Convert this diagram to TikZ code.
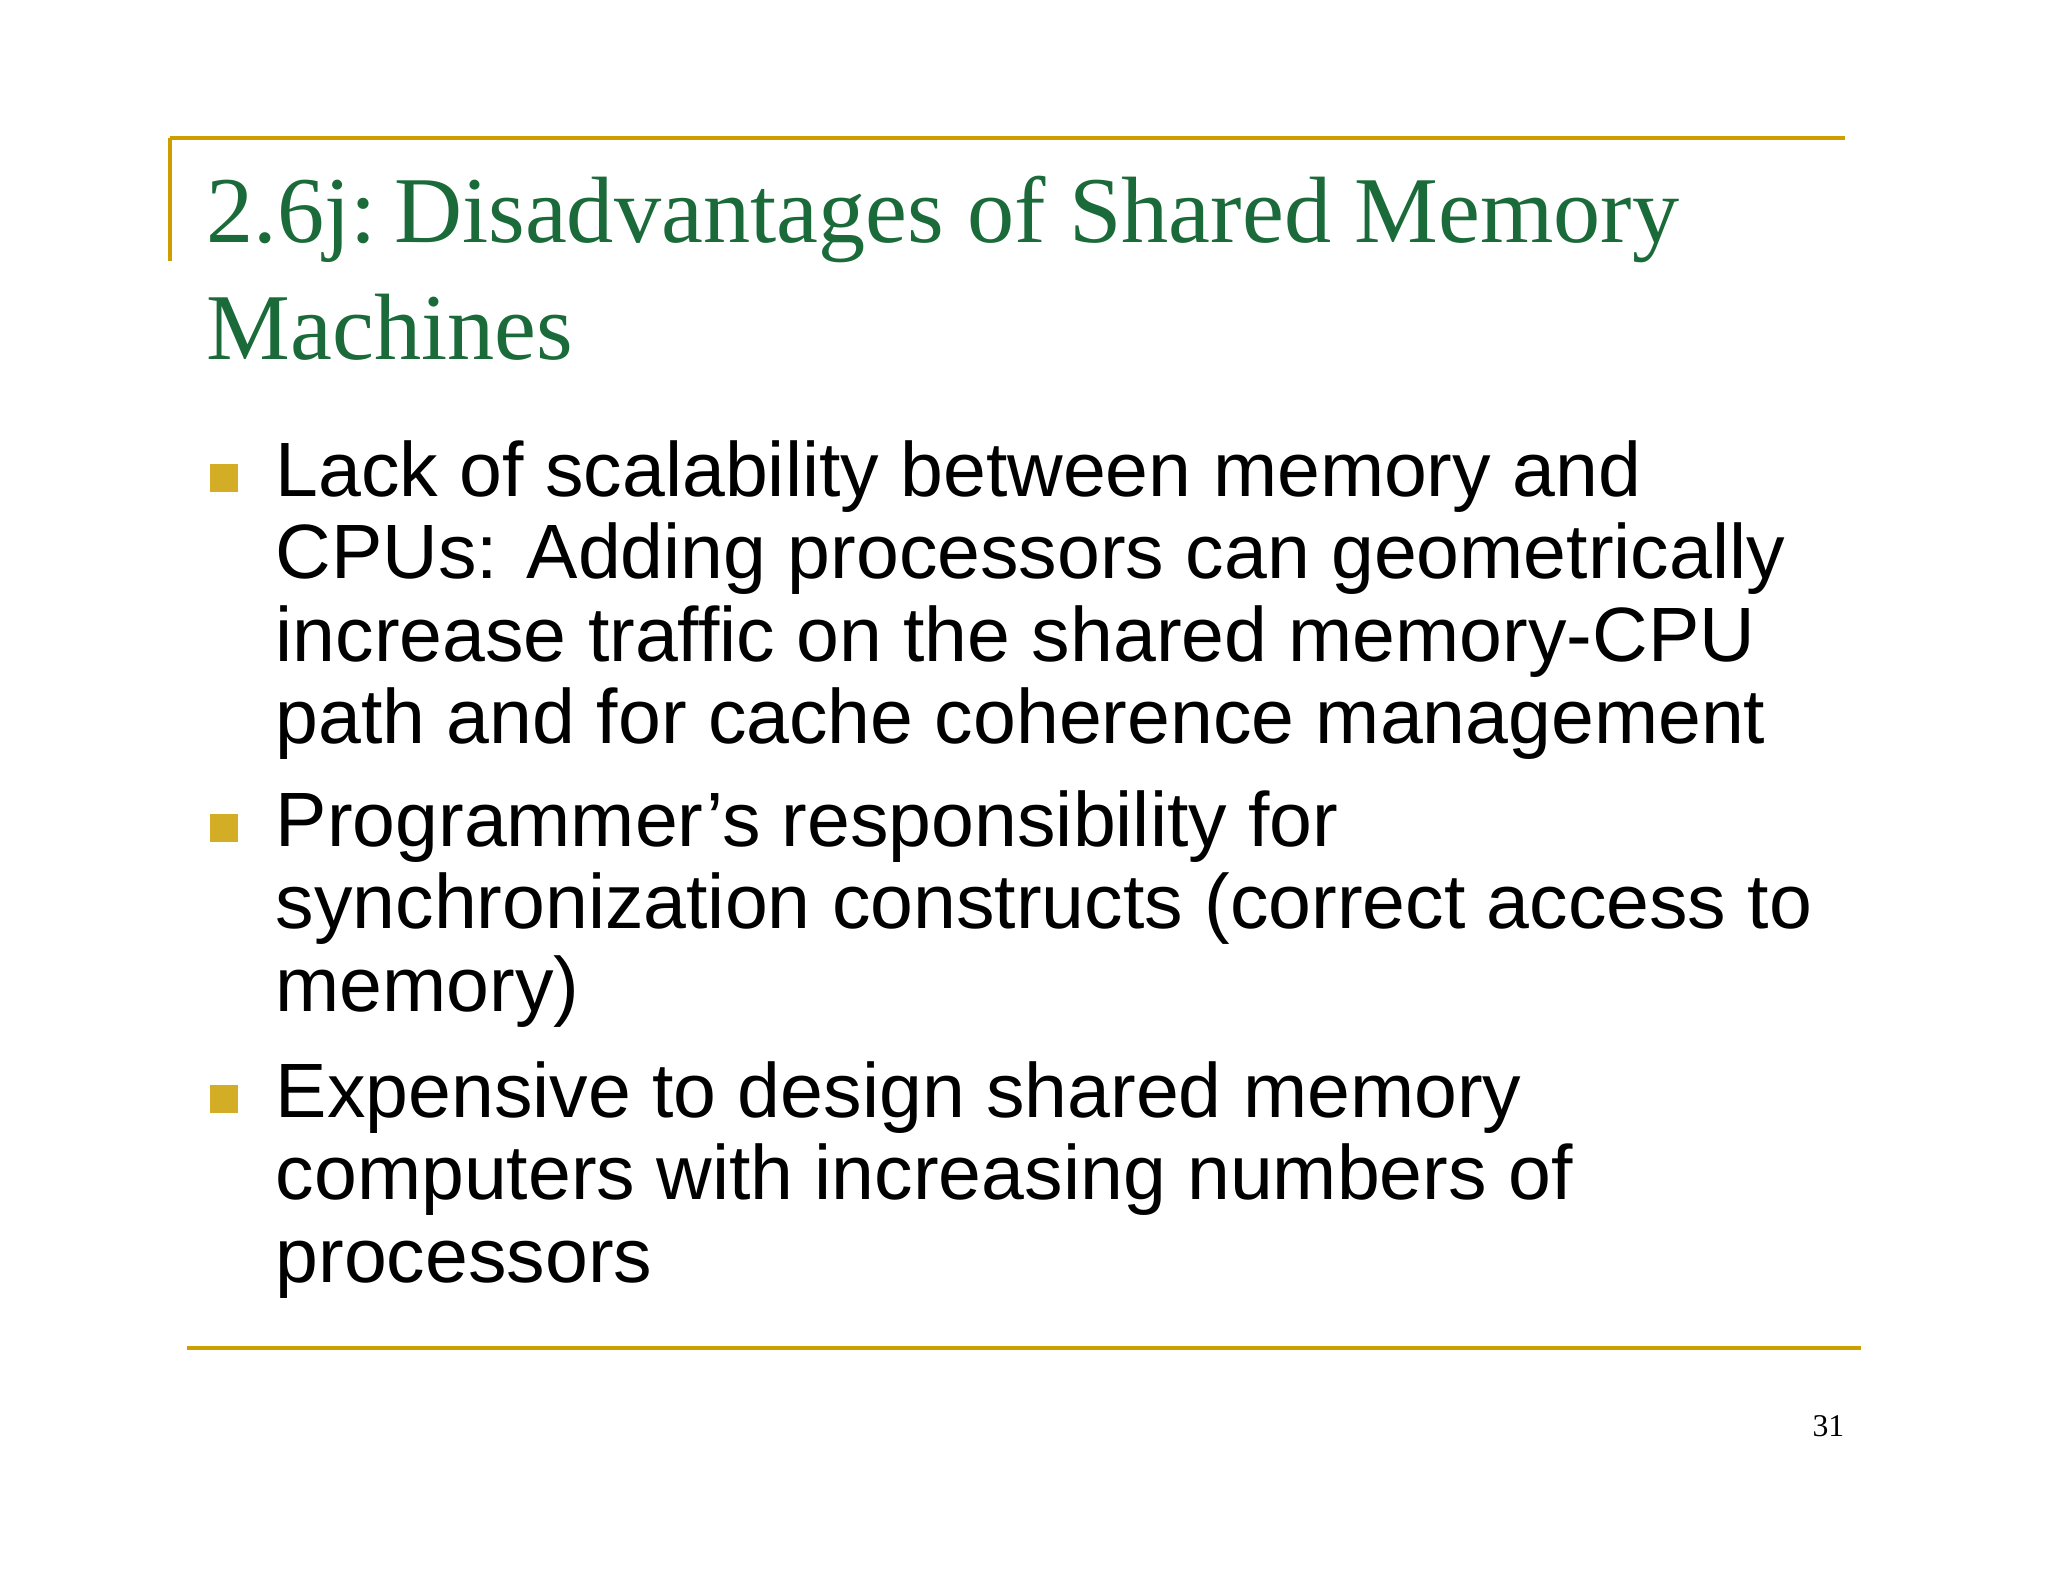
\documentclass[tikz,border=0pt]{standalone}
\usepackage{fontspec}
\setmainfont{Liberation Serif}
\setsansfont{Liberation Sans}
\usepackage{xcolor}
\definecolor{titlegreen}{HTML}{1B6B3A}
\definecolor{rulegold}{HTML}{CC9E00}
\tikzset{
  rule/.style={rulegold, line width=1.4pt},
  bulletsq/.style={fill=rulegold!85!white, draw=none, minimum size=0.28cm, inner sep=0pt},
  bodytext/.style={anchor=north west, align=left, inner sep=0pt, font=\sffamily\fontsize{21.9}{23.4}\selectfont},
  titletext/.style={anchor=base west, inner sep=0pt, text=titlegreen, font=\fontsize{26.8}{28}\selectfont},
}
\begin{document}
\begin{tikzpicture}[x=0.01cm, y=-0.01cm]
\useasboundingbox (0,0) rectangle (2048,1582);
\draw[rule] (170,138) -- (1845,138);
\draw[rule] (170,138) -- (170,261);
\draw[rule] (187,1348) -- (1861,1348);

\node[titletext] (title1) at (206,242) {2.6j:\kern-0.15em{} Disadvantages of Shared Memory};
\node[titletext] (title2) at (206,359) {Machines};

\node[bulletsq] (b1) at (224,478) {};
\node[bulletsq] (b2) at (224,828) {};
\node[bulletsq] (b3) at (224,1099) {};

\node[bodytext] (t1) at (275,440) {Lack of scalability between memory and\\CPUs: Adding processors can geometrically\\increase traffic on the shared memory-CPU\\path and for cache coherence management};
\node[bodytext] (t2) at (275,790) {Programmer’s responsibility for\\synchronization constructs (correct access to\\memory)};
\node[bodytext] (t3) at (275,1061) {Expensive to design shared memory\\computers with increasing numbers of\\processors};

\node[anchor=base east, inner sep=0pt, font=\fontsize{9}{10}\selectfont] (page) at (1845,1436) {31};
\end{tikzpicture}
\end{document}
